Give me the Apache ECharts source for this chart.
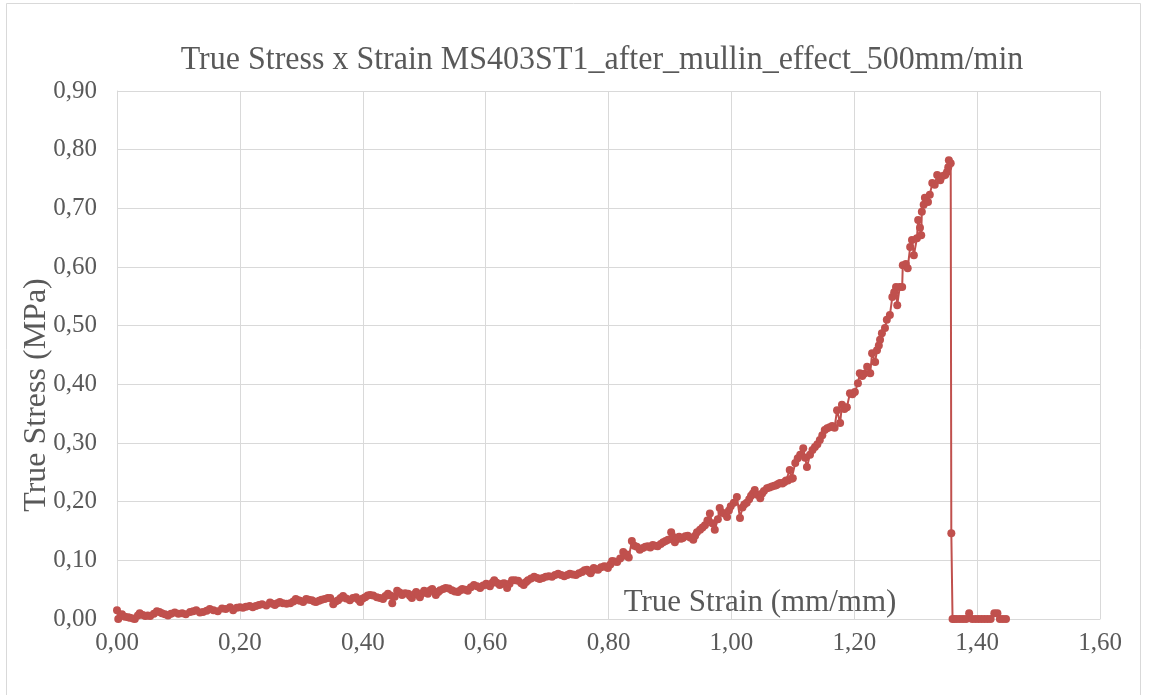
<!DOCTYPE html>
<html>
<head>
<meta charset="utf-8">
<script src="https://cdn.jsdelivr.net/npm/echarts@6/dist/echarts.min.js"></script>
<style>html,body{margin:0;padding:0;background:#fff;}#c{width:1150px;height:695px;}</style>
</head>
<body>
<div id="c"></div>
<script>
const titleText = 'True Stress x Strain MS403ST1_after_mullin_effect_500mm/min';
const xName = 'True Strain (mm/mm)';
const yName = 'True Stress (MPa)';
const xTicks = [0, 0.2, 0.4, 0.6, 0.8, 1.0, 1.2, 1.4, 1.6];
const yTicks = [0, 0.1, 0.2, 0.3, 0.4, 0.5, 0.6, 0.7, 0.8, 0.9];

const strain = [
0.000,0.002,0.008,0.013,0.018,0.021,0.026,0.029,0.034,0.037,0.042,0.046,0.050,0.054,0.060,0.065,0.069,0.073,0.078,0.083,
0.088,0.094,0.100,0.106,0.112,0.119,0.124,0.129,0.135,0.140,0.146,0.151,0.157,0.164,0.171,0.177,0.184,0.189,0.195,0.200,
0.205,0.210,0.216,0.221,0.226,0.231,0.236,0.243,0.249,0.253,0.257,0.261,0.265,0.270,0.276,0.282,0.287,0.291,0.295,0.298,
0.303,0.308,0.312,0.317,0.321,0.324,0.329,0.333,0.338,0.343,0.347,0.352,0.356,0.360,0.364,0.368,0.373,0.379,0.384,0.389,
0.393,0.396,0.400,0.404,0.408,0.412,0.417,0.423,0.428,0.433,0.437,0.441,0.445,0.448,0.452,0.456,0.460,0.464,0.469,0.474,
0.477,0.480,0.484,0.487,0.490,0.493,0.497,0.500,0.503,0.506,0.510,0.513,0.516,0.519,0.523,0.526,0.531,0.535,0.540,0.545,
0.550,0.555,0.559,0.562,0.567,0.571,0.576,0.581,0.586,0.591,0.596,0.601,0.604,0.607,0.611,0.614,0.618,0.623,0.627,0.630,
0.635,0.639,0.643,0.648,0.653,0.658,0.662,0.666,0.669,0.674,0.679,0.684,0.688,0.693,0.698,0.703,0.708,0.713,0.718,0.723,
0.728,0.733,0.737,0.742,0.747,0.752,0.757,0.761,0.765,0.768,0.771,0.774,0.776,0.780,0.783,0.788,0.793,0.796,0.799,0.803,
0.806,0.810,0.814,0.819,0.824,0.827,0.830,0.833,0.838,0.842,0.846,0.851,0.856,0.860,0.864,0.868,0.872,0.876,0.880,0.885,
0.889,0.893,0.897,0.902,0.905,0.908,0.911,0.915,0.918,0.921,0.925,0.929,0.933,0.938,0.941,0.944,0.949,0.953,0.957,0.961,
0.965,0.969,0.973,0.978,0.981,0.984,0.988,0.993,0.996,0.999,1.004,1.009,1.014,1.018,1.021,1.025,1.029,1.032,1.035,1.038,
1.042,1.047,1.050,1.053,1.058,1.062,1.066,1.070,1.073,1.076,1.079,1.083,1.086,1.089,1.092,1.095,1.098,1.100,1.104,1.108,
1.112,1.117,1.120,1.123,1.128,1.132,1.136,1.140,1.144,1.148,1.152,1.156,1.160,1.164,1.168,1.172,1.177,1.180,1.184,1.188,
1.193,1.197,1.201,1.206,1.209,1.213,1.216,1.221,1.226,1.229,1.234,1.237,1.240,1.242,1.245,1.250,1.253,1.258,1.262,1.265,
1.268,1.270,1.274,1.278,1.279,1.284,1.287,1.291,1.294,1.297,1.302,1.304,1.307,1.309,1.310,1.313,1.315,1.320,1.323,1.327,
1.331,1.335,1.340,1.344,1.348,1.351,1.353,1.354,1.357,1.358,1.360,1.363,1.367,1.372,1.377,1.382,1.387,1.392,1.397,1.402,
1.407,1.412,1.417,1.422,1.428,1.433,1.437,1.442,1.447
];
const stress = [
0.015,0.000,0.008,0.004,0.003,0.002,0.001,0.000,0.006,0.010,0.007,0.005,0.006,0.005,0.009,0.013,0.012,0.010,0.008,0.006,
0.009,0.011,0.009,0.010,0.008,0.012,0.013,0.015,0.011,0.012,0.014,0.017,0.015,0.013,0.018,0.017,0.020,0.015,0.019,0.020,
0.019,0.021,0.022,0.020,0.022,0.024,0.025,0.023,0.028,0.026,0.024,0.027,0.029,0.027,0.026,0.027,0.030,0.034,0.032,0.031,
0.029,0.034,0.033,0.032,0.030,0.029,0.031,0.033,0.034,0.036,0.036,0.025,0.030,0.032,0.036,0.039,0.035,0.032,0.036,0.037,
0.033,0.029,0.035,0.037,0.040,0.041,0.040,0.037,0.036,0.034,0.039,0.043,0.040,0.027,0.038,0.048,0.045,0.041,0.044,0.043,
0.039,0.036,0.042,0.046,0.042,0.037,0.044,0.048,0.046,0.043,0.049,0.051,0.047,0.041,0.046,0.049,0.051,0.053,0.052,0.049,
0.047,0.046,0.049,0.051,0.050,0.048,0.054,0.058,0.056,0.053,0.057,0.060,0.058,0.056,0.062,0.066,0.062,0.058,0.060,0.061,
0.053,0.060,0.066,0.066,0.065,0.061,0.058,0.063,0.066,0.069,0.072,0.070,0.068,0.070,0.072,0.073,0.072,0.075,0.077,0.075,
0.073,0.075,0.077,0.076,0.075,0.078,0.080,0.083,0.084,0.081,0.078,0.083,0.087,0.085,0.084,0.088,0.090,0.089,0.087,0.093,
0.099,0.098,0.097,0.103,0.114,0.108,0.110,0.105,0.133,0.125,0.123,0.118,0.121,0.123,0.124,0.122,0.126,0.125,0.124,0.128,
0.131,0.133,0.135,0.148,0.140,0.131,0.136,0.140,0.137,0.138,0.141,0.142,0.139,0.135,0.142,0.148,0.152,0.156,0.160,0.168,
0.180,0.163,0.152,0.170,0.189,0.182,0.180,0.174,0.185,0.192,0.198,0.208,0.172,0.190,0.195,0.198,0.204,0.210,0.214,0.220,
0.212,0.206,0.214,0.218,0.223,0.224,0.226,0.227,0.228,0.230,0.232,0.231,0.233,0.236,0.236,0.254,0.239,0.240,0.266,0.274,
0.280,0.291,0.275,0.259,0.280,0.288,0.293,0.298,0.305,0.313,0.322,0.325,0.327,0.329,0.326,0.356,0.334,0.365,0.358,0.361,
0.385,0.383,0.387,0.402,0.419,0.414,0.418,0.430,0.419,0.453,0.438,0.458,0.466,0.476,0.487,0.496,0.510,0.518,0.549,0.557,
0.566,0.535,0.566,0.566,0.603,0.605,0.598,0.634,0.646,0.620,0.649,0.680,0.667,0.654,0.694,0.706,0.718,0.711,0.723,0.743,
0.740,0.757,0.748,0.755,0.757,0.762,0.770,0.782,0.777,0.146,0.000,0.000,0.000,0.000,0.000,0.000,0.010,0.000,0.000,0.000,
0.000,0.000,0.000,0.000,0.010,0.010,0.000,0.000,0.000
];

const points = strain.map((s, i) => [s, stress[i]]);
const fmt = v => v.toFixed(2).replace('.', ',');
const serif = '"Liberation Serif", "Times New Roman", serif';
const txt = '#595959';
const grid = '#D9D9D9';
const red = '#C0504D';

const chart = echarts.init(document.getElementById('c'), null, {renderer: 'canvas'});
chart.setOption({
  animation: false,
  backgroundColor: '#fff',
  grid: {left: 117, right: 50, top: 91, bottom: 76},
  xAxis: {
    type: 'value',
    min: xTicks[0], max: xTicks[xTicks.length - 1], interval: 0.2,
    axisLine: {show: true, lineStyle: {color: grid, width: 1}},
    axisTick: {show: false},
    splitLine: {show: true, lineStyle: {color: grid, width: 1}},
    axisLabel: {formatter: fmt, fontFamily: serif, fontSize: 25, color: txt, margin: 12}
  },
  yAxis: {
    type: 'value',
    min: yTicks[0], max: yTicks[yTicks.length - 1], interval: 0.1,
    axisLine: {show: true, lineStyle: {color: grid, width: 1}},
    axisTick: {show: false},
    splitLine: {show: true, lineStyle: {color: grid, width: 1}},
    axisLabel: {formatter: fmt, fontFamily: serif, fontSize: 25, color: txt, margin: 20}
  },
  graphic: [
    {type: 'rect', shape: {x: 6.5, y: 3.5, width: 1134, height: 700}, style: {fill: 'none', stroke: grid, lineWidth: 1}, z: -1, silent: true},
    {type: 'text', x: 602, y: 60, scaleY: 1.08, style: {text: titleText, font: '32px ' + serif, fill: txt, textAlign: 'center', textVerticalAlign: 'middle'}, z: 10},
    {type: 'text', x: 760, y: 603, style: {text: xName, font: '31px ' + serif, fill: txt, textAlign: 'center', textVerticalAlign: 'middle'}, z: 10},
    {type: 'text', x: 37, y: 395, rotation: Math.PI / 2, style: {text: yName, font: '32px ' + serif, fill: txt, textAlign: 'center', textVerticalAlign: 'middle'}, z: 10}
  ],
  series: [{
    type: 'line',
    data: points,
    symbol: 'circle',
    symbolSize: 8,
    showAllSymbol: true,
    itemStyle: {color: red},
    lineStyle: {color: red, width: 2}
  }]
});
</script>
</body>
</html>
